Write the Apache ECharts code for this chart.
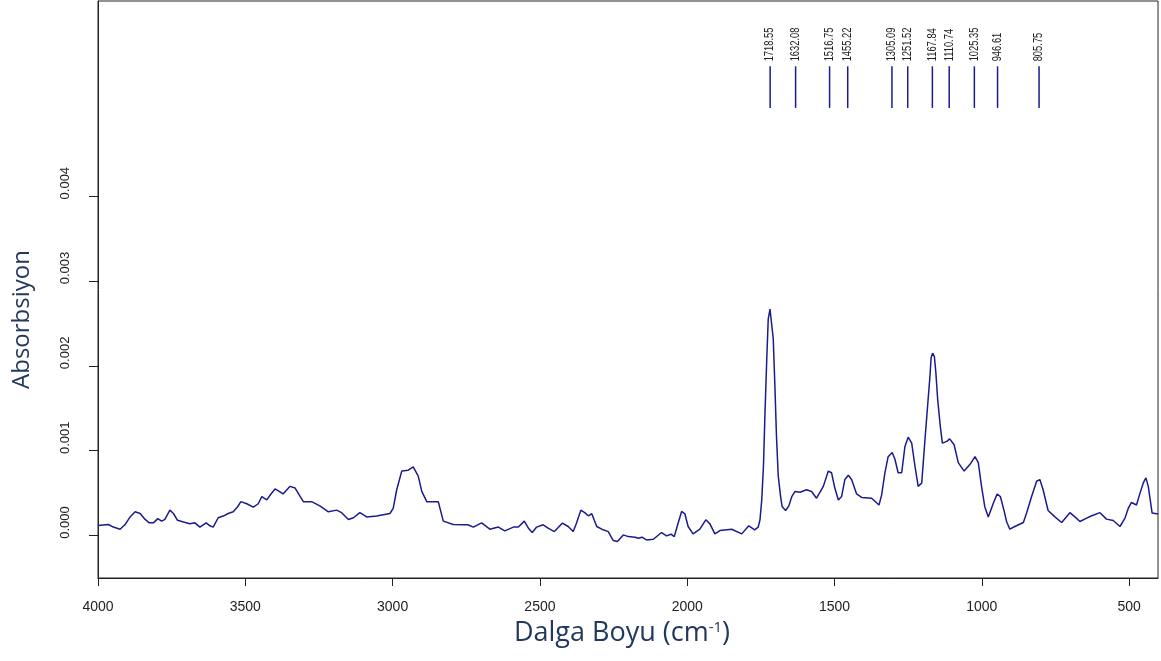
<!DOCTYPE html>
<html>
<head>
<meta charset="utf-8">
<script src="https://cdn.jsdelivr.net/npm/echarts@6/dist/echarts.min.js"></script>
<style>
  html, body { margin: 0; padding: 0; background: #ffffff; }
  #chart { width: 1161px; height: 661px; }
</style>
</head>
<body>
<div id="chart"></div>
<script>
// FTIR absorbance spectrum: wavenumber (cm-1) and absorbance
const wavenumbers = [
  4000, 3965, 3948, 3925, 3908, 3891, 3874, 3857, 3840, 3826, 3812, 3797, 3784, 3773,
  3756, 3744, 3730, 3710, 3688, 3671, 3654, 3633, 3620, 3609, 3592, 3575, 3558, 3541,
  3526, 3515, 3495, 3473, 3456, 3444, 3427, 3413, 3399, 3385, 3372, 3348, 3331, 3303,
  3275, 3247, 3218, 3190, 3173, 3150, 3133, 3111, 3088, 3054, 3009, 2998, 2986, 2969,
  2947, 2930, 2913, 2901, 2884, 2862, 2845, 2828, 2794, 2760, 2745, 2726, 2698, 2670,
  2641, 2619, 2590, 2573, 2553, 2539, 2526, 2511, 2489, 2472, 2451, 2424, 2404, 2387,
  2376, 2361, 2348, 2336, 2324, 2307, 2290, 2268, 2251, 2237, 2217, 2200, 2177, 2166,
  2154, 2138, 2115, 2087, 2070, 2055, 2044, 2031, 2019, 2008, 1997, 1980, 1957, 1937,
  1923, 1906, 1889, 1849, 1815, 1791, 1771, 1759, 1753, 1747, 1741, 1736, 1730, 1725,
  1719, 1714, 1708, 1702, 1697, 1691, 1683, 1678, 1666, 1655, 1645, 1634, 1617, 1595,
  1578, 1561, 1555, 1538, 1521, 1510, 1499, 1487, 1476, 1465, 1453, 1442, 1425, 1408,
  1374, 1349, 1340, 1329, 1318, 1304, 1295, 1284, 1272, 1261, 1250, 1238, 1227, 1216,
  1204, 1193, 1184, 1176, 1172, 1167, 1161, 1156, 1150, 1141, 1134, 1119, 1109, 1094,
  1080, 1060, 1040, 1023, 1012, 1001, 990, 978, 975, 961, 948, 937, 925, 916,
  905, 888, 859, 848, 831, 814, 803, 792, 775, 752, 729, 701, 684, 667,
  644, 627, 599, 577, 554, 531, 514, 503, 492, 475, 463, 452, 443, 435,
  422, 407, 402
];
const absorbance = [
  0.00012, 0.00013, 0.00010, 0.000075, 0.00013, 0.00022, 0.00028, 0.00026, 0.00019, 0.00015, 0.00015, 0.00020, 0.00017, 0.00019,
  0.00030, 0.00026, 0.00018, 0.00016, 0.00014, 0.00015, 0.00010, 0.00015, 0.000115, 0.00010, 0.00021, 0.00023, 0.00026, 0.00028,
  0.00034, 0.00040, 0.000375, 0.000335, 0.000375, 0.00046, 0.00042, 0.00049, 0.00055, 0.00052, 0.00049, 0.00058, 0.00056, 0.00040,
  0.00040, 0.00035, 0.00028, 0.00030, 0.00027, 0.00019, 0.00021, 0.00027, 0.00022, 0.00023, 0.00026, 0.00032, 0.00054, 0.00076,
  0.00077, 0.00081, 0.00070, 0.00052, 0.00040, 0.00040, 0.00040, 0.00017, 0.00013, 0.000127, 0.000127, 0.00010, 0.00015, 0.000075,
  0.00010, 0.000056, 0.00010, 0.00010, 0.00017, 0.000087, 0.000036, 0.00010, 0.000127, 0.000087, 0.000047, 0.000146, 0.000107, 0.000047,
  0.000146, 0.00030, 0.00027, 0.000233, 0.000257, 0.000107, 0.000075, 0.000047, -0.000059, -0.000071, 0.000008, -0.000012, -0.000019, -0.000031,
  -0.000019, -0.000051, -0.000043, 0.000036, -0.000004, 0.000016, -0.000012, 0.000146, 0.000284, 0.000257, 0.000107, 0.00002, 0.000075, 0.000186,
  0.000138, 0.00002, 0.000059, 0.000075, 0.00002, 0.000115, 0.000067, 0.000099, 0.000186, 0.00042, 0.00084, 0.00145, 0.00208, 0.00255,
  0.00267, 0.00265, 0.00232, 0.00172, 0.00117, 0.00070, 0.00046, 0.000343, 0.000296, 0.00035, 0.00046, 0.00052, 0.00051, 0.00054,
  0.00052, 0.00044, 0.00042, 0.00058, 0.00076, 0.00074, 0.00056, 0.00042, 0.00046, 0.00066, 0.00071, 0.00066, 0.00049, 0.00045,
  0.00044, 0.00036, 0.00048, 0.00074, 0.00093, 0.00098, 0.00090, 0.00074, 0.00074, 0.00105, 0.00116, 0.00109, 0.00082, 0.00058,
  0.00062, 0.00113, 0.00153, 0.00188, 0.00210, 0.00215, 0.00211, 0.00192, 0.00161, 0.00129, 0.00109, 0.00111, 0.00114, 0.00107,
  0.00086, 0.00076, 0.00084, 0.00093, 0.00086, 0.00058, 0.00034, 0.00022, 0.00023, 0.00038, 0.00049, 0.00046, 0.00030, 0.000166,
  0.000075, 0.000107, 0.000154, 0.000265, 0.00046, 0.00064, 0.00066, 0.00054, 0.000296, 0.00022, 0.000154, 0.00027, 0.00022, 0.000166,
  0.000206, 0.000233, 0.00027, 0.000194, 0.000178, 0.000107, 0.000206, 0.00032, 0.00039, 0.00036, 0.00050, 0.00062, 0.00068, 0.00058,
  0.000265, 0.000257, 0.000257
];

// Assigned band positions (cm-1)
const peakPositions = [1718.55, 1632.08, 1516.75, 1455.22, 1305.09, 1251.52, 1167.84, 1110.74, 1025.35, 946.61, 805.75];
const peakLabels = ['1718.55', '1632.08', '1516.75', '1455.22', '1305.09', '1251.52', '1167.84', '1110.74', '1025.35', '946.61', '805.75'];

// Axis tick values and labels
const xTicks = [4000, 3500, 3000, 2500, 2000, 1500, 1000, 500];
const yTicks = [0, 0.001, 0.002, 0.003, 0.004];
const yTickLabels = ['0.000', '0.001', '0.002', '0.003', '0.004'];

const spectrum = wavenumbers.map((w, i) => [w, absorbance[i]]);
const peakData = peakPositions.map((p, i) => [p, i]);

const LINE_COLOR = '#1b1b8e';
const TITLE_COLOR = '#22385c';
const MARK_LOW = 0.00504;
const MARK_HIGH = 0.00553;
const narrow = '"Liberation Sans Narrow", "Liberation Sans", Arial, sans-serif';
const titleFont = '"Open Sans", Lato, sans-serif';

const chart = echarts.init(document.getElementById('chart'), null, { renderer: 'canvas' });

chart.setOption({
  animation: false,
  backgroundColor: '#ffffff',
  grid: {
    left: 98, right: 3, top: 1, bottom: 83,
    show: true, borderColor: '#222', borderWidth: 1, backgroundColor: 'transparent'
  },
  xAxis: {
    type: 'value',
    inverse: true,
    min: 402,
    max: 4000,
    name: '{t|Dalga Boyu (cm}{s|-1}{t|)}',
    nameLocation: 'middle',
    nameGap: 42,
    nameTextStyle: {
      padding: [0, 12, 0, 0],
      rich: {
        t: { fontFamily: titleFont, fontSize: 27, color: TITLE_COLOR },
        s: { fontFamily: titleFont, fontSize: 15, color: TITLE_COLOR, verticalAlign: 'top', padding: [0, 0, 12, 0] }
      }
    },
    axisLine: { show: true, onZero: false, lineStyle: { color: '#222', width: 1 } },
    axisTick: { show: true, customValues: xTicks, length: 8, inside: false, lineStyle: { color: '#222' } },
    axisLabel: {
      customValues: xTicks,
      formatter: v => String(v),
      margin: 22,
      fontFamily: narrow,
      fontSize: 14,
      color: '#222'
    },
    splitLine: { show: false }
  },
  yAxis: {
    type: 'value',
    min: -0.0005,
    max: 0.0063,
    name: 'Absorbsiyon',
    nameLocation: 'middle',
    nameRotate: 90,
    nameGap: 64,
    nameTextStyle: { fontFamily: titleFont, fontSize: 24, color: TITLE_COLOR, padding: [0, 60, 0, 0] },
    axisLine: { show: true, onZero: false, lineStyle: { color: '#222', width: 1 } },
    axisTick: { show: true, customValues: yTicks, length: 9, lineStyle: { color: '#222' } },
    axisLabel: {
      customValues: yTicks,
      formatter: v => yTickLabels[yTicks.findIndex(t => Math.abs(t - v) < 1e-9)] || '',
      rotate: 90,
      margin: 26,
      padding: [0, 0, 0, 26],
      fontFamily: narrow,
      fontSize: 13,
      color: '#222'
    },
    splitLine: { show: false }
  },
  series: [
    {
      type: 'line',
      data: spectrum,
      showSymbol: false,
      symbol: 'none',
      smooth: false,
      lineStyle: { color: LINE_COLOR, width: 1.5 },
      z: 3
    },
    {
      type: 'custom',
      data: peakData,
      clip: false,
      renderItem: function (params, api) {
        const w = api.value(0);
        const idx = api.value(1);
        const hi = api.coord([w, MARK_HIGH]);
        const lo = api.coord([w, MARK_LOW]);
        return {
          type: 'group',
          children: [
            {
              type: 'line',
              shape: { x1: hi[0], y1: hi[1], x2: lo[0], y2: lo[1] },
              style: { stroke: LINE_COLOR, lineWidth: 1.5 }
            },
            {
              type: 'text',
              x: hi[0],
              y: hi[1] - 5,
              rotation: Math.PI / 2,
              scaleX: 0.78,
              scaleY: 1,
              style: {
                text: peakLabels[idx],
                align: 'left',
                verticalAlign: 'middle',
                fontFamily: narrow,
                fontSize: 12,
                fill: '#222'
              }
            }
          ]
        };
      },
      z: 4
    }
  ]
});
</script>
</body>
</html>
